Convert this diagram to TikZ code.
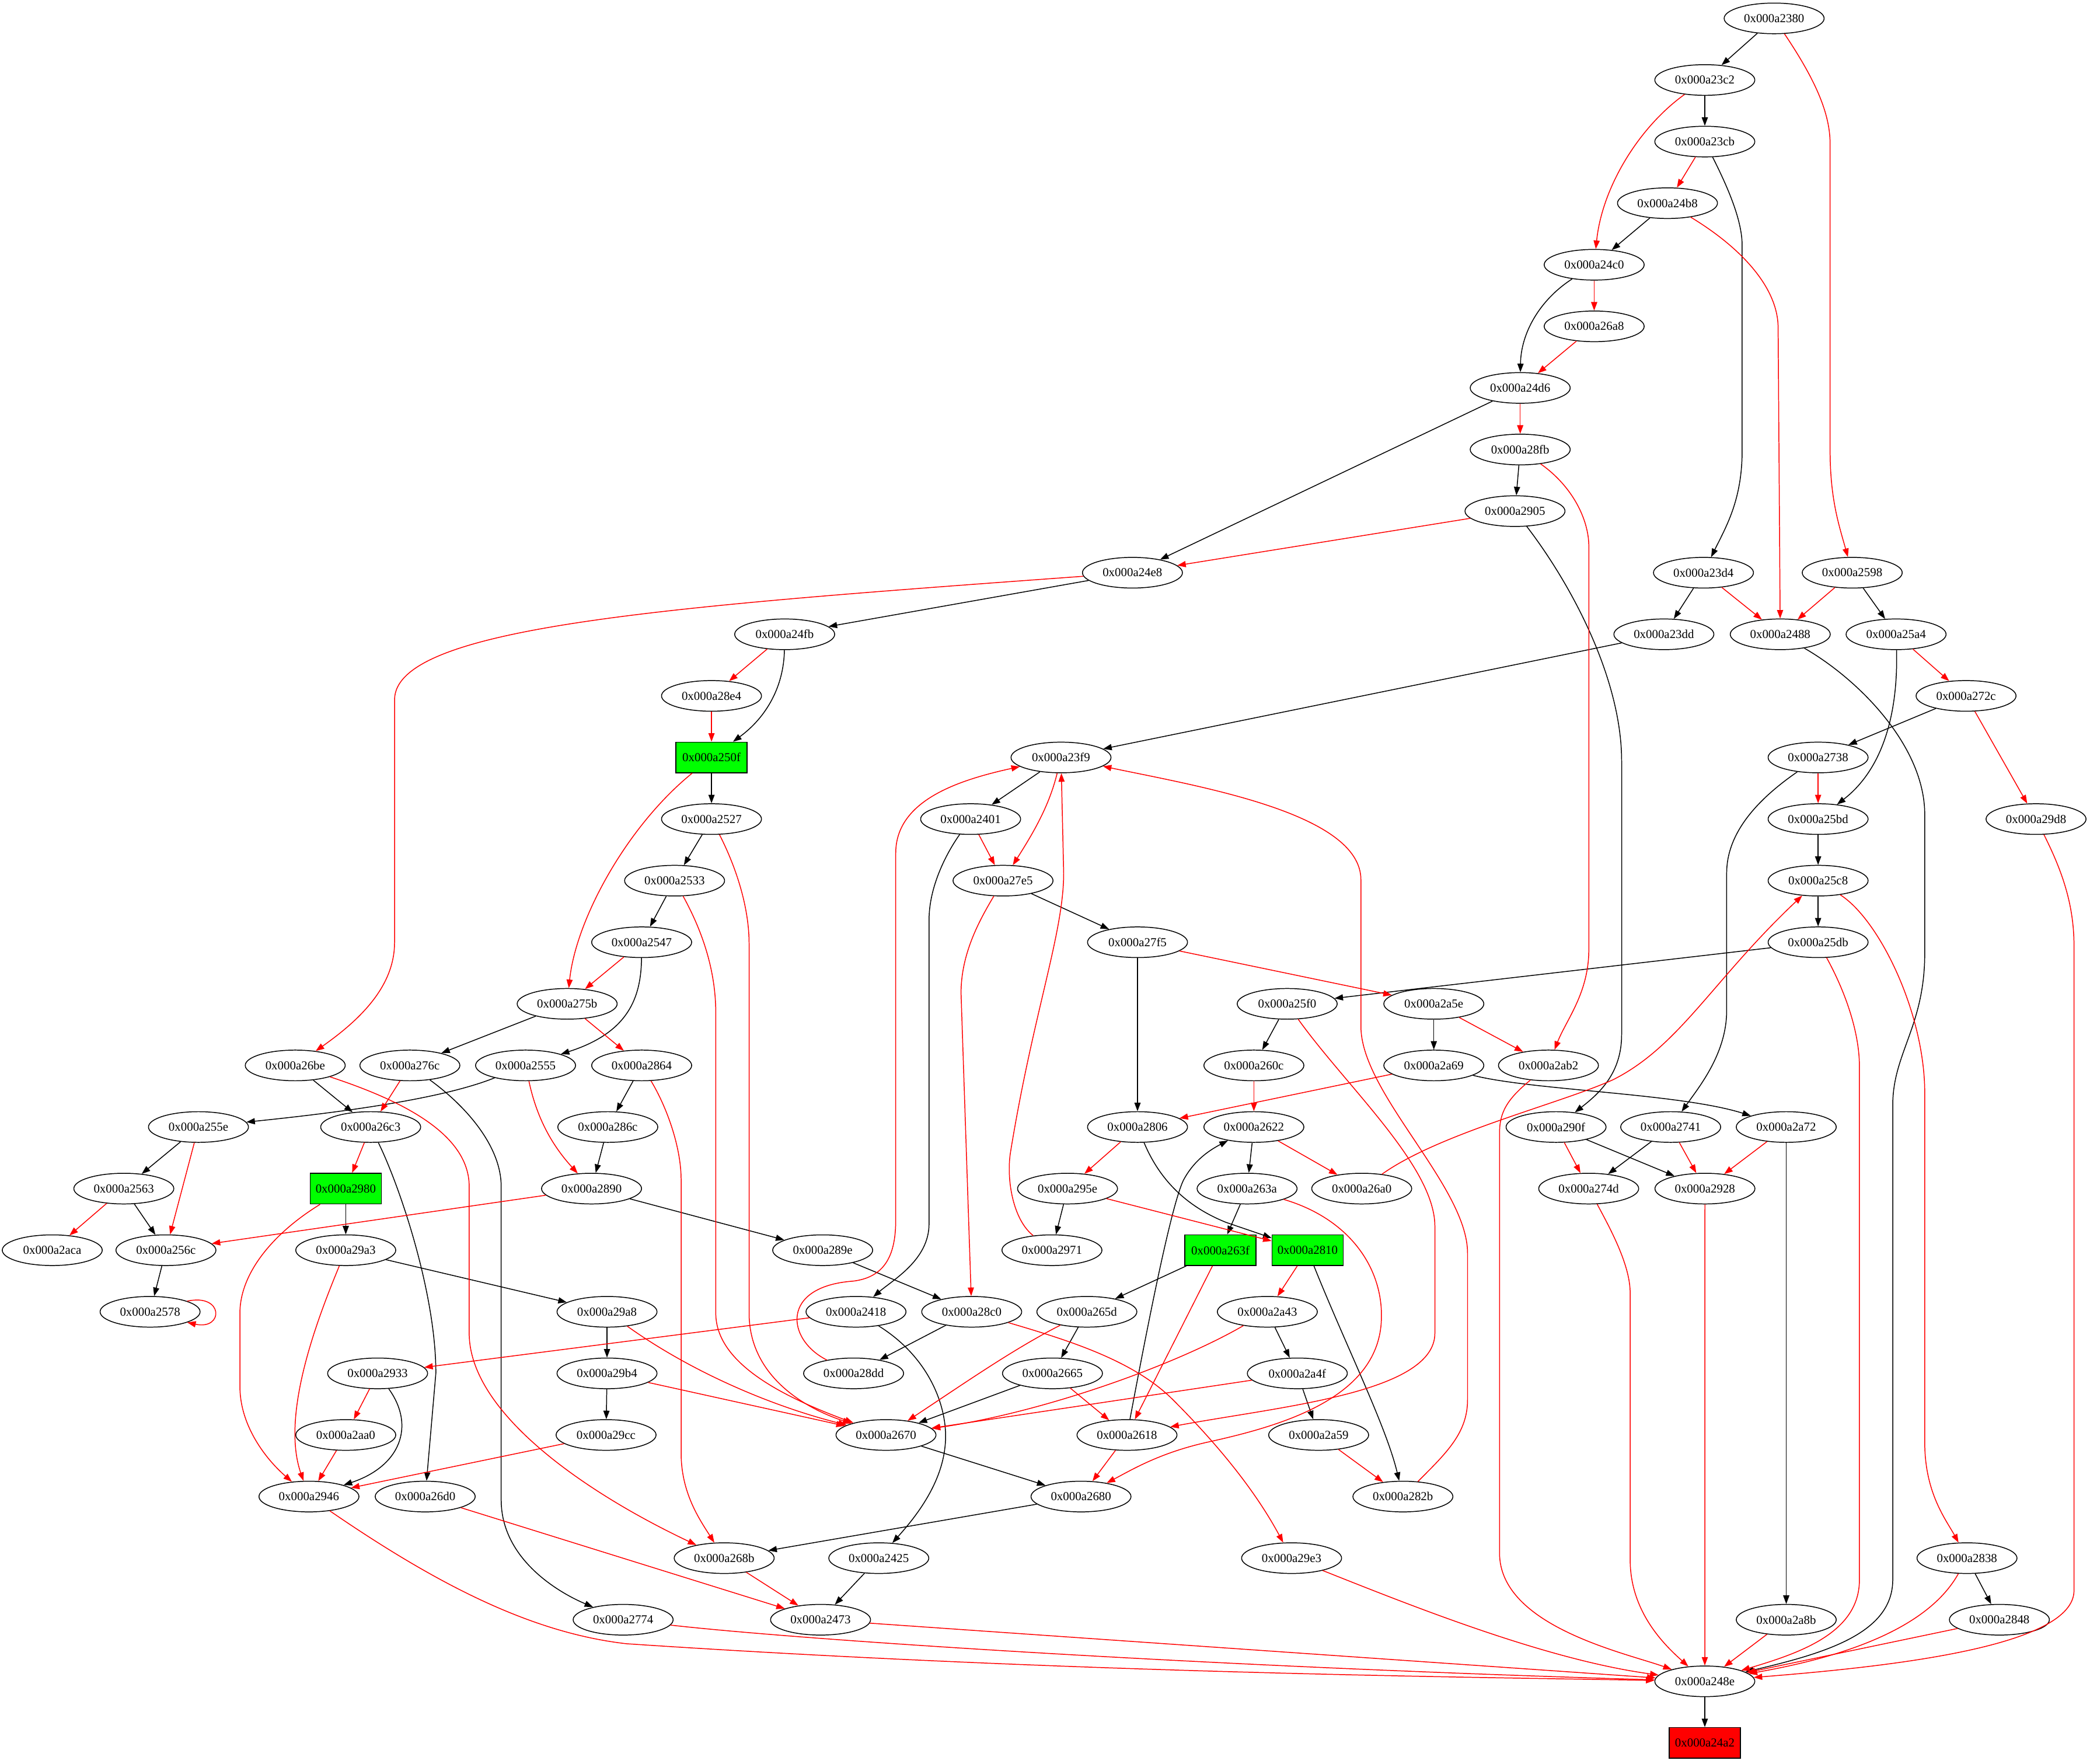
\documentclass[tikz,border=0pt]{standalone}
\usepackage{fontspec}
\setmainfont{Liberation Serif}
\usetikzlibrary{shapes.geometric,arrows.meta}
\definecolor{gvgreen}{RGB}{0,255,0}
\definecolor{gvred}{RGB}{255,0,0}
\begin{document}
\begin{tikzpicture}[x=1pt,y=-1pt,
  every node/.style={font=\fontsize{9.15}{11}\selectfont},
  el/.style={ellipse,draw,line width=0.65pt,minimum width=75pt,minimum height=23pt,inner sep=0pt},
  gbox/.style={rectangle,draw,line width=0.65pt,fill=gvgreen,minimum width=53.4pt,minimum height=23pt,inner sep=0pt},
  rbox/.style={rectangle,draw,line width=0.65pt,fill=gvred,minimum width=53.4pt,minimum height=23pt,inner sep=0pt},
  bk/.style={draw=black,line width=0.65pt,-{Triangle[length=6.4pt,width=4.6pt]}},
  rd/.style={draw=gvred,line width=0.65pt,-{Triangle[length=6.4pt,width=4.6pt]},fill=none}]
\useasboundingbox (0,0) rectangle (1568,1322.8);
% rank 0-8
\node[el] (n2380) at (1331,13.8) {0x000a2380};
\node[el] (n23c2) at (1279,60.0) {0x000a23c2};
\node[el] (n23cb) at (1279,106.2) {0x000a23cb};
\node[el] (n24b8) at (1251,152.4) {0x000a24b8};
\node[el] (n24c0) at (1196,198.6) {0x000a24c0};
\node[el] (n26a8) at (1196,244.8) {0x000a26a8};
\node[el] (n24d6) at (1140.5,291.0) {0x000a24d6};
\node[el] (n28fb) at (1140.5,337.2) {0x000a28fb};
\node[el] (n2905) at (1136.6,383.4) {0x000a2905};
% rank 9
\node[el] (n24e8) at (849.6,429.6) {0x000a24e8};
\node[el] (n23d4) at (1278,429.6) {0x000a23d4};
\node[el] (n2598) at (1389.6,429.6) {0x000a2598};
% rank 10
\node[el] (n24fb) at (588.7,475.8) {0x000a24fb};
\node[el] (n23dd) at (1248.3,475.8) {0x000a23dd};
\node[el] (n2488) at (1335.6,475.8) {0x000a2488};
\node[el] (n25a4) at (1422.5,475.8) {0x000a25a4};
% rank 11
\node[el] (n28e4) at (533.8,522.0) {0x000a28e4};
\node[el] (n272c) at (1475,522.0) {0x000a272c};
% rank 12
\node[gbox] (n250f) at (533.8,568.2) {0x000a250f};
\node[el] (n23f9) at (796,568.2) {0x000a23f9};
\node[el] (n2738) at (1364,568.2) {0x000a2738};
% rank 13
\node[el] (n2527) at (533.8,614.4) {0x000a2527};
\node[el] (n2401) at (728.2,614.4) {0x000a2401};
\node[el] (n25bd) at (1364,614.4) {0x000a25bd};
\node[el] (n29d8) at (1527.5,614.4) {0x000a29d8};
% rank 14
\node[el] (n2533) at (506.1,660.6) {0x000a2533};
\node[el] (n27e5) at (752.5,660.6) {0x000a27e5};
\node[el] (n25c8) at (1364,660.6) {0x000a25c8};
% rank 15
\node[el] (n2547) at (481.4,706.8) {0x000a2547};
\node[el] (n27f5) at (853.4,706.8) {0x000a27f5};
\node[el] (n25db) at (1364,706.8) {0x000a25db};
% rank 16
\node[el] (n275b) at (425.5,753.0) {0x000a275b};
\node[el] (n25f0) at (965.7,753.0) {0x000a25f0};
\node[el] (n2a5e) at (1075.7,753.0) {0x000a2a5e};
% rank 17
\node[el] (n26be) at (221.5,799.2) {0x000a26be};
\node[el] (n276c) at (307.5,799.2) {0x000a276c};
\node[el] (n2555) at (394.3,799.2) {0x000a2555};
\node[el] (n2864) at (481.4,799.2) {0x000a2864};
\node[el] (n260c) at (940.7,799.2) {0x000a260c};
\node[el] (n2a69) at (1075.7,799.2) {0x000a2a69};
\node[el] (n2ab2) at (1161.7,799.2) {0x000a2ab2};
% rank 18
\node[el] (n255e) at (148.9,845.4) {0x000a255e};
\node[el] (n26c3) at (278.1,845.4) {0x000a26c3};
\node[el] (n286c) at (456.0,845.4) {0x000a286c};
\node[el] (n2806) at (853.4,845.4) {0x000a2806};
\node[el] (n2622) at (940.7,845.4) {0x000a2622};
\node[el] (n290f) at (1167.4,845.4) {0x000a290f};
\node[el] (n2741) at (1253.4,845.4) {0x000a2741};
\node[el] (n2a72) at (1340.1,845.4) {0x000a2a72};
% rank 19
\node[el] (n2563) at (92.9,891.6) {0x000a2563};
\node[gbox] (n2980) at (259.4,891.6) {0x000a2980};
\node[el] (n2890) at (443.8,891.6) {0x000a2890};
\node[el] (n295e) at (800.9,891.6) {0x000a295e};
\node[el] (n263a) at (935.6,891.6) {0x000a263a};
\node[el] (n26a0) at (1021.6,891.6) {0x000a26a0};
\node[el] (n274d) at (1191.9,891.6) {0x000a274d};
\node[el] (n2928) at (1279.1,891.6) {0x000a2928};
% rank 20
\node[el] (n2aca) at (39.2,937.8) {0x000a2aca};
\node[el] (n256c) at (124.5,937.8) {0x000a256c};
\node[el] (n29a3) at (259.4,937.8) {0x000a29a3};
\node[el] (n289e) at (617.2,937.8) {0x000a289e};
\node[el] (n2971) at (789.2,937.8) {0x000a2971};
\node[gbox] (n263f) at (915.6,937.8) {0x000a263f};
\node[gbox] (n2810) at (981.0,937.8) {0x000a2810};
% rank 21
\node[el] (n2578) at (112.6,984.0) {0x000a2578};
\node[el] (n29a8) at (455.4,984.0) {0x000a29a8};
\node[el] (n2418) at (642.2,984.0) {0x000a2418};
\node[el] (n28c0) at (729.0,984.0) {0x000a28c0};
\node[el] (n265d) at (815.4,984.0) {0x000a265d};
\node[el] (n2a43) at (950.8,984.0) {0x000a2a43};
% rank 22
\node[el] (n2933) at (283.3,1030.2) {0x000a2933};
\node[el] (n29b4) at (455.4,1030.2) {0x000a29b4};
\node[el] (n28dd) at (640.4,1030.2) {0x000a28dd};
\node[el] (n2665) at (789.6,1030.2) {0x000a2665};
\node[el] (n2a4f) at (973.3,1030.2) {0x000a2a4f};
% rank 23
\node[el] (n2aa0) at (259.4,1076.4) {0x000a2aa0};
\node[el] (n29cc) at (454.7,1076.4) {0x000a29cc};
\node[el] (n2670) at (664.7,1076.4) {0x000a2670};
\node[el] (n2618) at (845.5,1076.4) {0x000a2618};
\node[el] (n2a59) at (989.3,1076.4) {0x000a2a59};
% rank 24
\node[el] (n2946) at (231.8,1122.6) {0x000a2946};
\node[el] (n26d0) at (319.0,1122.6) {0x000a26d0};
\node[el] (n2680) at (811.0,1122.6) {0x000a2680};
\node[el] (n282b) at (1052.5,1122.6) {0x000a282b};
% rank 25
\node[el] (n268b) at (543.3,1168.8) {0x000a268b};
\node[el] (n2425) at (659.3,1168.8) {0x000a2425};
\node[el] (n29e3) at (969.0,1168.8) {0x000a29e3};
\node[el] (n2838) at (1475.7,1168.8) {0x000a2838};
% rank 26
\node[el] (n2774) at (467.5,1215.0) {0x000a2774};
\node[el] (n2473) at (615.6,1215.0) {0x000a2473};
\node[el] (n2a8b) at (1340.1,1215.0) {0x000a2a8b};
\node[el] (n2848) at (1500.0,1215.0) {0x000a2848};
% rank 27-28
\node[el] (n248e) at (1279.0,1261.2) {0x000a248e};
\node[rbox] (n24a2) at (1279.0,1307.4) {0x000a24a2};

% ---------------- black edges
\draw[bk] (n2380) -- (n23c2);
\draw[bk] (n23c2) -- (n23cb);
\draw[bk] (n23cb) .. controls (1296,140) and (1307,165) .. (1307,184) -- (1307,338) .. controls (1307,375) and (1295,395) .. (n23d4);
\draw[bk] (n24b8) -- (n24c0);
\draw[bk] (n24c0) .. controls (1155,225) and (1141,250) .. (n24d6);
\draw[bk] (n24d6) -- (n24e8);
\draw[bk] (n28fb) -- (n2905);
\draw[bk] (n2905) .. controls (1180,440) and (1216.6,510) .. (1216.6,571) -- (1216.6,776) .. controls (1216.6,805) and (1200,820) .. (n290f);
\draw[bk] (n24e8) -- (n24fb);
\draw[bk] (n23d4) -- (n23dd);
\draw[bk] (n2598) -- (n25a4);
\draw[bk] (n24fb) .. controls (588,515) and (575,538) .. (n250f);
\draw[bk] (n23dd) -- (n23f9);
\draw[bk] (n2488) .. controls (1395,510) and (1444,560) .. (1444,611) -- (1444,715) .. controls (1444,770) and (1420,790) .. (1420,829) -- (1420,1185) .. controls (1420,1225) and (1370,1240) .. (n248e);
\draw[bk] (n25a4) .. controls (1424,530) and (1415,575) .. (n25bd);
\draw[bk] (n272c) -- (n2738);
\draw[bk] (n250f) -- (n2527);
\draw[bk] (n23f9) -- (n2401);
\draw[bk] (n2738) .. controls (1318,600) and (1295.4,625) .. (1295.4,655) -- (1295.4,758) .. controls (1295.4,790) and (1275,815) .. (n2741);
\draw[bk] (n2527) -- (n2533);
\draw[bk] (n2401) .. controls (710,640) and (697,665) .. (697,690) -- (697,918) .. controls (697,945) and (670,960) .. (n2418);
\draw[bk] (n25bd) -- (n25c8);
\draw[bk] (n2533) -- (n2547);
\draw[bk] (n27e5) -- (n27f5);
\draw[bk] (n25c8) -- (n25db);
\draw[bk] (n2547) .. controls (481,750) and (470,775) .. (n2555);
\draw[bk] (n27f5) -- (n2806);
\draw[bk] (n25db) -- (n25f0);
\draw[bk] (n275b) -- (n276c);
\draw[bk] (n25f0) -- (n260c);
\draw[bk] (n2a5e) -- (n2a69);
\draw[bk] (n26be) -- (n26c3);
\draw[bk] (n276c) .. controls (350,830) and (376,860) .. (376,890) -- (376,1125) .. controls (376,1170) and (420,1195) .. (n2774);
\draw[bk] (n2555) .. controls (330,825) and (250,835) .. (n255e);
\draw[bk] (n2864) -- (n286c);
\draw[bk] (n2a69) .. controls (1150,818) and (1260,820) .. (n2a72);
\draw[bk] (n255e) -- (n2563);
\draw[bk] (n26c3) .. controls (300,890) and (327,970) .. (327,1030) -- (n26d0);
\draw[bk] (n286c) -- (n2890);
\draw[bk] (n2806) .. controls (870,885) and (890,905) .. (920,917) -- (n2810);
\draw[bk] (n2622) -- (n263a);
\draw[bk] (n290f) -- (n2928);
\draw[bk] (n2741) -- (n274d);
\draw[bk] (n2a72) -- (n2a8b);
\draw[bk] (n2563) -- (n256c);
\draw[bk] (n2980) -- (n29a3);
\draw[bk] (n2890) -- (n289e);
\draw[bk] (n295e) -- (n2971);
\draw[bk] (n263a) -- (n263f);
\draw[bk] (n256c) -- (n2578);
\draw[bk] (n29a3) -- (n29a8);
\draw[bk] (n289e) -- (n28c0);
\draw[bk] (n263f) -- (n265d);
\draw[bk] (n2810) .. controls (1010,1010) and (1040,1070) .. (n282b);
\draw[bk] (n29a8) -- (n29b4);
\draw[bk] (n2418) .. controls (700,1020) and (712,1060) .. (709,1085) .. controls (706,1115) and (685,1140) .. (n2425);
\draw[bk] (n28c0) -- (n28dd);
\draw[bk] (n265d) -- (n2665);
\draw[bk] (n2a43) -- (n2a4f);
\draw[bk] (n2933) .. controls (312,1070) and (300,1100) .. (n2946);
\draw[bk] (n29b4) -- (n29cc);
\draw[bk] (n2665) -- (n2670);
\draw[bk] (n2a4f) -- (n2a59);
\draw[bk] (n2670) -- (n2680);
\draw[bk] (n2618) .. controls (858,1010) and (878,905) .. (888,885) .. controls (895,872) and (905,864) .. (n2622);
\draw[bk] (n2680) -- (n268b);
\draw[bk] (n2425) -- (n2473);
\draw[bk] (n2838) -- (n2848);
\draw[bk] (n248e) -- (n24a2);

% ---------------- red edges
\draw[rd] (n2380) .. controls (1362,60) and (1373,85) .. (1373,108) -- (1373,338) .. controls (1373,375) and (1380,395) .. (n2598);
\draw[rd] (n23c2) .. controls (1230,95) and (1202,140) .. (n24c0);
\draw[rd] (n23cb) -- (n24b8);
\draw[rd] (n24b8) .. controls (1305,185) and (1334,215) .. (1334,246) -- (n2488);
\draw[rd] (n24c0) -- (n26a8);
\draw[rd] (n26a8) -- (n24d6);
\draw[rd] (n24d6) -- (n28fb);
\draw[rd] (n28fb) .. controls (1180,365) and (1192,390) .. (1192,410) -- (1192,712) .. controls (1192,745) and (1175,765) .. (n2ab2);
\draw[rd] (n2905) -- (n24e8);
\draw[rd] (n24e8) .. controls (500,455) and (296,470) .. (296,525) -- (296,707) .. controls (296,740) and (270,765) .. (n26be);
\draw[rd] (n23d4) -- (n2488);
\draw[rd] (n2598) -- (n2488);
\draw[rd] (n24fb) -- (n28e4);
\draw[rd] (n25a4) -- (n272c);
\draw[rd] (n28e4) -- (n250f);
\draw[rd] (n272c) -- (n29d8);
\draw[rd] (n250f) .. controls (470,620) and (432,690) .. (n275b);
\draw[rd] (n23f9) .. controls (787,605) and (775,625) .. (n27e5);
\draw[rd] (n2738) -- (n25bd);
\draw[rd] (n29d8) .. controls (1548,655) and (1556,680) .. (1556,710) -- (1556,1193) .. controls (1556,1235) and (1420,1250) .. (n248e);
\draw[rd] (n2527) .. controls (552,650) and (562,680) .. (562,708) -- (562,985) .. controls (562,1030) and (600,1055) .. (n2670);
\draw[rd] (n2401) -- (n27e5);
\draw[rd] (n2533) .. controls (525,695) and (537,725) .. (537,760) -- (537,985) .. controls (537,1020) and (580,1045) .. (n2670);
\draw[rd] (n27e5) .. controls (735,690) and (721,715) .. (721,745) -- (n28c0);
\draw[rd] (n25c8) .. controls (1410,690) and (1444,760) .. (1444,820) -- (1444,1082) .. controls (1444,1120) and (1460,1140) .. (n2838);
\draw[rd] (n2547) -- (n275b);
\draw[rd] (n27f5) -- (n2a5e);
\draw[rd] (n25db) .. controls (1385,745) and (1395,775) .. (1395,800) -- (1395,1185) .. controls (1395,1225) and (1350,1240) .. (n248e);
\draw[rd] (n275b) -- (n2864);
\draw[rd] (n25f0) .. controls (1010,815) and (1076.5,875) .. (1076.5,920) -- (1076.5,1000) .. controls (1076.5,1045) and (960,1055) .. (n2618);
\draw[rd] (n2a5e) -- (n2ab2);
\draw[rd] (n26be) .. controls (300,825) and (352,850) .. (352,890) -- (352,1000) .. controls (352,1060) and (440,1120) .. (n268b);
\draw[rd] (n276c) -- (n26c3);
\draw[rd] (n2555) .. controls (403,840) and (415,860) .. (n2890);
\draw[rd] (n2864) .. controls (500,830) and (511,860) .. (511,885) -- (511,1090) .. controls (511,1120) and (525,1140) .. (n268b);
\draw[rd] (n260c) -- (n2622);
\draw[rd] (n2a69) -- (n2806);
\draw[rd] (n2ab2) .. controls (1130,825) and (1125,835) .. (1125,850) -- (1125,1165) .. controls (1125,1220) and (1220,1240) .. (n248e);
\draw[rd] (n255e) -- (n256c);
\draw[rd] (n26c3) -- (n2980);
\draw[rd] (n2806) -- (n295e);
\draw[rd] (n2622) -- (n26a0);
\draw[rd] (n290f) -- (n274d);
\draw[rd] (n2741) -- (n2928);
\draw[rd] (n2a72) -- (n2928);
\draw[rd] (n2563) -- (n2aca);
\draw[rd] (n2980) .. controls (205,925) and (180,955) .. (180,985) -- (180,1040) .. controls (180,1070) and (200,1095) .. (n2946);
\draw[rd] (n2890) -- (n256c);
\draw[rd] (n295e) -- (n2810);
\draw[rd] (n263a) .. controls (1015,915) and (1040,955) .. (1036,995) .. controls (1030,1050) and (960,1070) .. (905,1082) .. controls (870,1090) and (850,1102) .. (n2680);
\draw[rd] (n26a0) .. controls (1080,850) and (1170,828) .. (1210,810) .. controls (1260,785) and (1285,735) .. (n25c8);
\draw[rd] (n274d) .. controls (1210,925) and (1223,950) .. (1223,970) -- (1223,1170) .. controls (1223,1210) and (1250,1235) .. (n248e);
\draw[rd] (n2928) -- (n248e);
\draw[rd] (n29a3) .. controls (240,985) and (210,1060) .. (n2946);
\draw[rd] (n2971) .. controls (760,915) and (755,885) .. (758,865) .. controls (775,760) and (798,700) .. (798,655) -- (n23f9);
\draw[rd] (n263f) -- (n2618);
\draw[rd] (n2810) -- (n2a43);
\draw[rd] (n2578.16) .. controls (168,970) and (168,998) .. (n2578.-16);
\draw[rd] (n29a8) .. controls (520,1030) and (580,1055) .. (n2670);
\draw[rd] (n2418) -- (n2933);
\draw[rd] (n28c0) .. controls (800,1005) and (850,1020) .. (880,1050) .. controls (910,1080) and (940,1115) .. (n29e3);
\draw[rd] (n265d) .. controls (760,1012) and (720,1040) .. (n2670);
\draw[rd] (n2a43) .. controls (880,1025) and (780,1060) .. (n2670);
\draw[rd] (n2933) -- (n2aa0);
\draw[rd] (n29b4) -- (n2670);
\draw[rd] (n28dd) .. controls (590,1005) and (585,965) .. (640,961) .. controls (665,958) and (672,940) .. (672,915) -- (672,640) .. controls (672,600) and (720,585) .. (n23f9);
\draw[rd] (n2665) -- (n2618);
\draw[rd] (n2a4f) -- (n2670);
\draw[rd] (n2aa0) -- (n2946);
\draw[rd] (n29cc) -- (n2946);
\draw[rd] (n2618) -- (n2680);
\draw[rd] (n2a59) -- (n282b);
\draw[rd] (n2946) .. controls (330,1190) and (400,1225) .. (470,1233) .. controls (800,1255) and (1100,1258) .. (n248e);
\draw[rd] (n26d0) -- (n2473);
\draw[rd] (n282b) .. controls (1085,1090) and (1101,1075) .. (1101,1050) -- (1101,940) .. controls (1101,890) and (1021,820) .. (1021,770) -- (1021,660) .. controls (1021,610) and (900,590) .. (n23f9);
\draw[rd] (n268b) -- (n2473);
\draw[rd] (n29e3) .. controls (1060,1205) and (1160,1245) .. (n248e);
\draw[rd] (n2838) .. controls (1450,1215) and (1400,1240) .. (n248e);
\draw[rd] (n2774) .. controls (600,1230) and (900,1250) .. (n248e);
\draw[rd] (n2473) -- (n248e);
\draw[rd] (n2a8b) -- (n248e);
\draw[rd] (n2848) -- (n248e);
\end{tikzpicture}
\end{document}
